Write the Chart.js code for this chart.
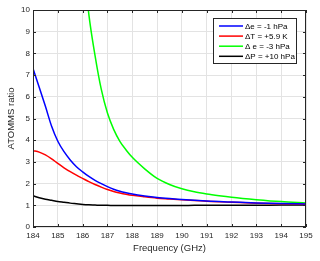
<!DOCTYPE html>
<html><head><meta charset="utf-8">
<script src="https://cdn.jsdelivr.net/npm/chart.js@4"></script>
<style>html,body{margin:0;padding:0;background:#fff;} #wrap{width:320px;height:261px;position:relative;}</style>
</head><body><div id="wrap"><canvas id="c"></canvas></div>
<script>
const freqs    = [184, 184.25, 184.5, 184.75, 185, 185.25, 185.5, 185.75, 186, 186.25, 186.5, 186.75, 187, 187.25, 187.5, 187.75, 188, 188.5, 189, 189.5, 190, 190.5, 191, 191.5, 192, 193, 194, 195];
const deltaE1  = [7.3, 6.44, 5.56, 4.64, 3.95, 3.47, 3.09, 2.78, 2.54, 2.33, 2.15, 2.0, 1.86, 1.74, 1.65, 1.58, 1.52, 1.43, 1.36, 1.31, 1.27, 1.23, 1.2, 1.17, 1.15, 1.11, 1.08, 1.06];
const deltaT   = [3.52, 3.45, 3.32, 3.14, 2.93, 2.73, 2.55, 2.39, 2.24, 2.09, 1.96, 1.84, 1.73, 1.64, 1.57, 1.51, 1.46, 1.39, 1.33, 1.29, 1.25, 1.22, 1.19, 1.16, 1.14, 1.10, 1.07, 1.05];
const deltaE3  = [null, null, null, null, null, null, null, null, 12.6, 9.8, 7.9, 6.35, 5.25, 4.5, 3.95, 3.55, 3.21, 2.68, 2.24, 1.96, 1.76, 1.62, 1.52, 1.44, 1.37, 1.26, 1.17, 1.11];
const deltaP   = [1.44, 1.35, 1.28, 1.23, 1.18, 1.14, 1.10, 1.07, 1.04, 1.02, 1.01, 1.0, 1.0, 0.99, 0.99, 0.99, 0.99, 0.99, 0.99, 0.99, 0.99, 1.0, 1.0, 1.0, 1.0, 1.0, 1.01, 1.01];
const seriesLabels = ['\u0394e = -1 hPa', '\u0394T = +5.9 K', '\u0394 e = -3 hPa', '\u0394P = +10 hPa'];
const seriesColors = ['#0000ff', '#ff0000', '#00ff00', '#000000'];
const seriesValues = [deltaE1, deltaT, deltaE3, deltaP];
const xTicks = [184, 185, 186, 187, 188, 189, 190, 191, 192, 193, 194, 195];
const yTicks = [0, 1, 2, 3, 4, 5, 6, 7, 8, 9, 10];
const xTitle = 'Frequency (GHz)';
const yTitle = 'ATOMMS ratio';

const FONT = "'Liberation Sans', Arial, Helvetica, sans-serif";
const AX = '#262626';

const datasets = seriesValues.map((vals, i) => ({
  label: seriesLabels[i],
  data: freqs.map((f, j) => ({x: f, y: vals[j]})),
  borderColor: seriesColors[i],
  backgroundColor: seriesColors[i],
  borderWidth: 1.5,
  pointRadius: 0,
  cubicInterpolationMode: 'monotone',
  spanGaps: false
}));

const framePlugin = {
  id: 'frame',
  afterDraw(chart) {
    const ctx = chart.ctx, a = chart.chartArea;
    const xs = chart.scales.x, ys = chart.scales.y;
    ctx.save();
    ctx.strokeStyle = AX; ctx.lineWidth = 1;
    ctx.strokeRect(Math.round(a.left) + 0.5, Math.round(a.top) + 0.5, Math.round(a.right - a.left) - 1, Math.round(a.bottom - a.top) - 1);
    ctx.beginPath();
    const L = 3;
    xTicks.forEach(v => {
      const px = Math.round(xs.getPixelForValue(v)) + 0.5;
      ctx.moveTo(px, a.bottom); ctx.lineTo(px, a.bottom - L);
      ctx.moveTo(px, a.top); ctx.lineTo(px, a.top + L);
    });
    yTicks.forEach(v => {
      const py = Math.round(ys.getPixelForValue(v)) + 0.5;
      ctx.moveTo(a.left, py); ctx.lineTo(a.left + L, py);
      ctx.moveTo(a.right, py); ctx.lineTo(a.right - L, py);
    });
    ctx.stroke();
    // legend box inside plot
    const bw = 84, bh = 46;
    const bx = Math.round(a.right - 9 - bw), by = Math.round(a.top + 8);
    ctx.fillStyle = '#ffffff';
    ctx.fillRect(bx, by, bw, bh);
    ctx.strokeStyle = AX;
    ctx.strokeRect(bx + 0.5, by + 0.5, bw - 1, bh - 1);
    ctx.font = '8px ' + FONT;
    ctx.textBaseline = 'middle';
    ctx.textAlign = 'left';
    chart.data.datasets.forEach((ds, i) => {
      const y = by + 8 + i * 10.1;
      ctx.strokeStyle = ds.borderColor; ctx.lineWidth = 1.5;
      ctx.beginPath(); ctx.moveTo(bx + 6, y); ctx.lineTo(bx + 30, y); ctx.stroke();
      ctx.fillStyle = '#000000';
      ctx.fillText(ds.label, bx + 32, y + 0.5);
    });
    ctx.restore();
  }
};

new Chart(document.getElementById('c'), {
  type: 'line',
  data: {datasets},
  options: {
    responsive: true,
    maintainAspectRatio: false,
    devicePixelRatio: 1,
    animation: false,
    layout: {padding: {left: 0, right: 14, top: 10, bottom: 0}},
    plugins: {legend: {display: false}, tooltip: {enabled: false}},
    scales: {
      x: {
        type: 'linear', min: 184, max: 195,
        afterBuildTicks: s => { s.ticks = xTicks.map(v => ({value: v})); },
        afterFit: s => { s.height = 34; },
        ticks: {color: AX, font: {family: FONT, size: 8}, padding: 4, maxRotation: 0, autoSkip: false},
        grid: {color: '#e3e3e3', drawTicks: false},
        border: {display: false},
        title: {display: true, text: xTitle, color: AX, font: {family: FONT, size: 9.5}, padding: {top: 0, bottom: 7}}
      },
      y: {
        type: 'linear', min: 0, max: 10,
        afterBuildTicks: s => { s.ticks = yTicks.map(v => ({value: v})); },
        afterFit: s => { s.width = 33; },
        ticks: {color: AX, font: {family: FONT, size: 8}, padding: 3, autoSkip: false},
        grid: {color: '#e3e3e3', drawTicks: false},
        border: {display: false},
        title: {display: true, text: yTitle, color: AX, font: {family: FONT, size: 9.5}, padding: {top: 6, bottom: 0}}
      }
    }
  },
  plugins: [framePlugin]
});
</script></body></html>
